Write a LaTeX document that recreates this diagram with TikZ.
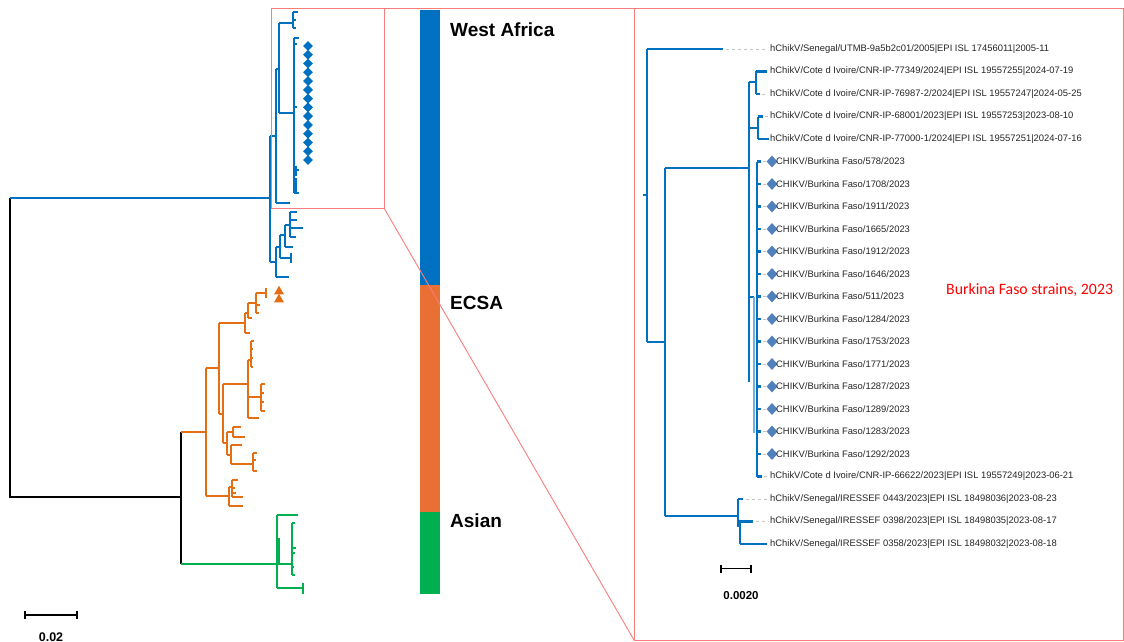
\documentclass[tikz,border=0pt]{standalone}
\usepackage{fontspec}
\setmainfont{Liberation Sans}
\newfontfamily\calib{Carlito}
\usetikzlibrary{shapes.geometric}
\definecolor{tblue}{RGB}{0,112,192}
\definecolor{tor}{RGB}{228,110,20}
\definecolor{tgr}{RGB}{0,176,80}
\definecolor{barblue}{RGB}{0,112,192}
\definecolor{baror}{RGB}{232,112,52}
\definecolor{bargr}{RGB}{0,176,80}
\definecolor{rdia}{RGB}{79,129,189}
\definecolor{frame}{RGB}{250,125,125}
\definecolor{leadgray}{RGB}{195,195,195}
\begin{document}
\begin{tikzpicture}[x=1pt,y=-1pt,
  bl/.style={draw=tblue,line width=1.7pt},
  ol/.style={draw=tor,line width=1.7pt},
  gl/.style={draw=tgr,line width=1.7pt},
  kl/.style={draw=black,line width=1.7pt},
  rb/.style={draw=tblue,line width=2.6pt},
  lead/.style={draw=leadgray,line width=0.7pt,dash pattern=on 3pt off 3pt},
  ldia/.style={diamond,fill=tblue,inner sep=0pt,minimum width=10pt,minimum height=10pt},
  rdiam/.style={diamond,fill=rdia,inner sep=0pt,minimum width=11pt,minimum height=12pt},
  otri/.style={regular polygon,regular polygon sides=3,fill=tor,inner sep=0pt,minimum size=11.5pt},
  lab/.style={anchor=west,inner sep=0pt,text=black!85,font=\fontsize{9.4}{11}\selectfont},
  clade/.style={anchor=base west,inner sep=0pt,font=\bfseries\fontsize{19}{22}\selectfont},
  sbar/.style={draw=black,line width=1.5pt},
  frm/.style={draw=frame,line width=0.9pt}]
\useasboundingbox (0,0) rectangle (1124,642);
\fill[white] (0,0) rectangle (1124,642);

% ================= LEFT TREE =================
\draw[kl] (10,198) -- (10,497) -- (181,497);
\draw[kl] (181,432) -- (181,564);
\draw[bl] (10,198) -- (270,198);
% blue clade
\draw[bl] (270,136) -- (270,262);
\draw[bl] (270,136) -- (276,136);
\draw[bl] (276,69) -- (276,203);
\draw[bl] (276,203) -- (290,203);
\draw[bl] (276,69) -- (279,69);
\draw[bl] (279,23) -- (279,113);
\draw[bl] (279,23) -- (293,23);
\draw[bl] (293,12) -- (293,28);
\draw[bl] (293,12) -- (298,12);
\draw[bl] (293,20) -- (296,20);
\draw[bl] (293,28) -- (296,28);
\draw[bl] (279,113) -- (294,113);
\draw[bl] (294,38) -- (294,193);
\draw[bl] (294,38) -- (299,38);
\draw[bl] (294,44) -- (297,44);
\draw[bl] (294,107) -- (297,107);
\draw[bl] (294,170) -- (299,170);
\draw[bl] (296,166) -- (296,176);
\draw[bl] (294,182) -- (297,182);
\draw[bl] (296,178) -- (296,193);
\draw[bl] (294,193) -- (299,193);
% lower blue subclade
\draw[bl] (270,262) -- (276,262);
\draw[bl] (276,247) -- (276,277);
\draw[bl] (276,277) -- (289,277);
\draw[bl] (276,247) -- (280,247);
\draw[bl] (280,235) -- (280,258);
\draw[bl] (280,258) -- (291,258);
\draw[bl] (291,253) -- (291,263);
\draw[bl] (280,235) -- (285,235);
\draw[bl] (285,225) -- (285,247);
\draw[bl] (285,247) -- (293,247);
\draw[bl] (285,225) -- (290,225);
\draw[bl] (290,212) -- (290,237);
\draw[bl] (290,212) -- (297,212);
\draw[bl] (290,220) -- (297,220);
\draw[bl] (290,228) -- (303,228);
\draw[bl] (290,237) -- (296,237);
% left diamonds
\foreach \i in {0,...,13} \node[ldia] (ld\i) at (308,{46+8.77*\i}) {};
% orange triangles
\node[otri] (tri1) at (279,291.5) {};
\node[otri] (tri2) at (279,299.5) {};

% orange clade
\draw[ol] (181,432) -- (206,432);
\draw[ol] (206,368) -- (206,496);
\draw[ol] (206,368) -- (219,368);
\draw[ol] (219,323) -- (219,414);
\draw[ol] (219,323) -- (245,323);
\draw[ol] (245,313) -- (245,333);
\draw[ol] (245,333) -- (250,333);
\draw[ol] (245,313) -- (248,313);
\draw[ol] (248,303) -- (248,318);
\draw[ol] (248,318) -- (252,318);
\draw[ol] (248,303) -- (256,303);
\draw[ol] (256,293) -- (256,313);
\draw[ol] (256,293) -- (266,293);
\draw[ol] (266,288) -- (266,298);
\draw[ol] (256,305) -- (260,305);
\draw[ol] (256,313) -- (259,313);
\draw[ol] (219,414) -- (223,414);
\draw[ol] (223,384) -- (223,443);
\draw[ol] (223,384) -- (248,384);
\draw[ol] (248,360) -- (248,418);
\draw[ol] (248,360) -- (251,360);
\draw[ol] (251,341) -- (251,367);
\draw[ol] (251,341) -- (254,341);
\draw[ol] (251,349) -- (253,349);
\draw[ol] (251,358) -- (253,358);
\draw[ol] (251,367) -- (253,367);
\draw[ol] (248,397) -- (261,397);
\draw[ol] (261,384) -- (261,411);
\draw[ol] (261,384) -- (265,384);
\draw[ol] (261,393) -- (264,393);
\draw[ol] (261,402) -- (264,402);
\draw[ol] (261,411) -- (265,411);
\draw[ol] (248,418) -- (259,418);
\draw[ol] (223,443) -- (227,443);
\draw[ol] (227,432) -- (227,455);
\draw[ol] (227,432) -- (233,432);
\draw[ol] (233,427) -- (233,437);
\draw[ol] (233,427) -- (241,427);
\draw[ol] (233,437) -- (245,437);
\draw[ol] (227,455) -- (231,455);
\draw[ol] (231,445) -- (231,464);
\draw[ol] (231,445) -- (242,445);
\draw[ol] (231,464) -- (253,464);
\draw[ol] (253,453) -- (253,471);
\draw[ol] (253,453) -- (257,453);
\draw[ol] (253,460) -- (256,460);
\draw[ol] (253,471) -- (257,471);
\draw[ol] (206,496) -- (229,496);
\draw[ol] (229,487) -- (229,506);
\draw[ol] (229,487) -- (232,487);
\draw[ol] (232,480) -- (232,497);
\draw[ol] (232,480) -- (238,480);
\draw[ol] (232,488) -- (235,488);
\draw[ol] (232,493) -- (236,493);
\draw[ol] (232,497) -- (243,497);
\draw[ol] (229,506) -- (243,506);

% green clade
\draw[gl] (181,564) -- (277,564);
\draw[gl] (277,515) -- (277,588);
\draw[gl] (277,515) -- (298,515);
\draw[draw=tgr,line width=3pt] (278,538) -- (278,563);
\draw[gl] (277,564) -- (292,564);
\draw[gl] (292,523) -- (292,575);
\draw[gl] (292,523) -- (295,523);
\draw[gl] (292,548) -- (296,548);
\draw[gl] (292,553) -- (295,553);
\draw[gl] (292,567) -- (294,567);
\draw[gl] (292,575) -- (295,575);
\draw[gl] (277,588) -- (303,588);
\draw[gl] (303,583) -- (303,594);

% left scale bar
\draw[sbar] (25,611) -- (25,619);
\draw[sbar] (25,615) -- (77,615);
\draw[sbar] (77,611) -- (77,619);
\node[anchor=north,inner sep=0pt,font=\bfseries\fontsize{12.5}{14}\selectfont] (sl) at (51,632.5) {0.02};

% ================= BAR =================
\fill[barblue] (420,10) rectangle (440,285);
\fill[baror] (420,285) rectangle (440,512);
\fill[bargr] (420,512) rectangle (440,594);
\node[clade] (wa) at (450,37) {West Africa};
\node[clade] (ec) at (450,309) {ECSA};
\node[clade] (as) at (450,527) {Asian};

% ================= FRAMES =================
\draw[frm] (271,8) rectangle (384,208);
\draw[frm] (384,8) -- (634,8);
\draw[frm] (384,208) -- (634,640);
\draw[frm] (634,8) rectangle (1123,640);

% ================= RIGHT TREE =================
\draw[rb] (643,195) -- (647,195);
\draw[rb] (647,49) -- (647,342);
\draw[rb] (647,49) -- (723,49);
\draw[lead] (726,49) -- (768,49);
\draw[rb] (647,342) -- (665,342);
\draw[rb] (665,168) -- (665,516);
\draw[rb] (665,168) -- (749,168);
\draw[rb] (749,82) -- (749,382);
\draw[rb] (749,82) -- (756,82);
\draw[rb] (756,71.5) -- (756,94);
\draw[rb] (756,71.5) -- (767,71.5);
\draw[rb] (756,94) -- (760,94);
\draw[lead] (762,94) -- (768,94);
\draw[rb] (749,128) -- (758,128);
\draw[rb] (758,116.5) -- (758,139);
\draw[rb] (758,116.5) -- (763,116.5);
\draw[lead] (765,116.5) -- (768,116.5);
\draw[rb] (758,139) -- (769,139);
\draw[rb] (749,297) -- (754,297);
\draw[draw=tblue!55,line width=2pt] (753.5,297) -- (753.5,433);
\draw[rb] (757,161.5) -- (757,476.5);
\foreach \i in {5,...,18}{
  \draw[rb] (757,{49+22.5*\i}) -- (761,{49+22.5*\i});
  \draw[lead] (763,{49+22.5*\i}) -- (767,{49+22.5*\i});
}
\draw[rb] (757,476.5) -- (762,476.5);
\draw[lead] (764,476.5) -- (769,476.5);
\draw[rb] (665,516) -- (738,516);
\draw[rb] (738,499) -- (738,527);
\draw[rb] (740,521.5) -- (740,544);
\draw[rb] (738,499) -- (743,499);
\draw[lead] (746,499) -- (769,499);
\draw[rb] (738,521.5) -- (753,521.5);
\draw[lead] (756,521.5) -- (769,521.5);
\draw[rb] (740,544) -- (767,544);

% right diamonds
\foreach \i in {5,...,18} \node[rdiam] (rd\i) at (772,{49+22.5*\i}) {};

% right labels
\node[lab] (r0) at (770,49) {hChikV/Senegal/UTMB-9a5b2c01/2005|EPI ISL 17456011|2005-11};
\node[lab] (r1) at (770,71.5) {hChikV/Cote d Ivoire/CNR-IP-77349/2024|EPI ISL 19557255|2024-07-19};
\node[lab] (r2) at (770,94) {hChikV/Cote d Ivoire/CNR-IP-76987-2/2024|EPI ISL 19557247|2024-05-25};
\node[lab] (r3) at (770,116.5) {hChikV/Cote d Ivoire/CNR-IP-68001/2023|EPI ISL 19557253|2023-08-10};
\node[lab] (r4) at (770,139) {hChikV/Cote d Ivoire/CNR-IP-77000-1/2024|EPI ISL 19557251|2024-07-16};
\foreach \n [count=\k from 5] in {578,1708,1911,1665,1912,1646,511,1284,1753,1771,1287,1289,1283,1292}
  \node[lab] (r\k) at (776,{49+22.5*\k}) {CHIKV/Burkina Faso/\n/2023};
\node[lab] (r19) at (770,476.5) {hChikV/Cote d Ivoire/CNR-IP-66622/2023|EPI ISL 19557249|2023-06-21};
\node[lab] (r20) at (770,499) {hChikV/Senegal/IRESSEF 0443/2023|EPI ISL 18498036|2023-08-23};
\node[lab] (r21) at (770,521.5) {hChikV/Senegal/IRESSEF 0398/2023|EPI ISL 18498035|2023-08-17};
\node[lab] (r22) at (770,544) {hChikV/Senegal/IRESSEF 0358/2023|EPI ISL 18498032|2023-08-18};

\node[anchor=base west,inner sep=0pt,text=red,font=\calib\fontsize{15.8}{18}\selectfont] (bf) at (946,294) {Burkina Faso strains, 2023};

% right scale bar
\draw[sbar] (721,564.5) -- (721,572.5);
\draw[sbar] (721,568.5) -- (751,568.5);
\draw[sbar] (751,564.5) -- (751,572.5);
\node[anchor=north,inner sep=0pt,font=\bfseries\fontsize{11.5}{13}\selectfont] (sr) at (741,591) {0.0020};
\end{tikzpicture}
\end{document}
